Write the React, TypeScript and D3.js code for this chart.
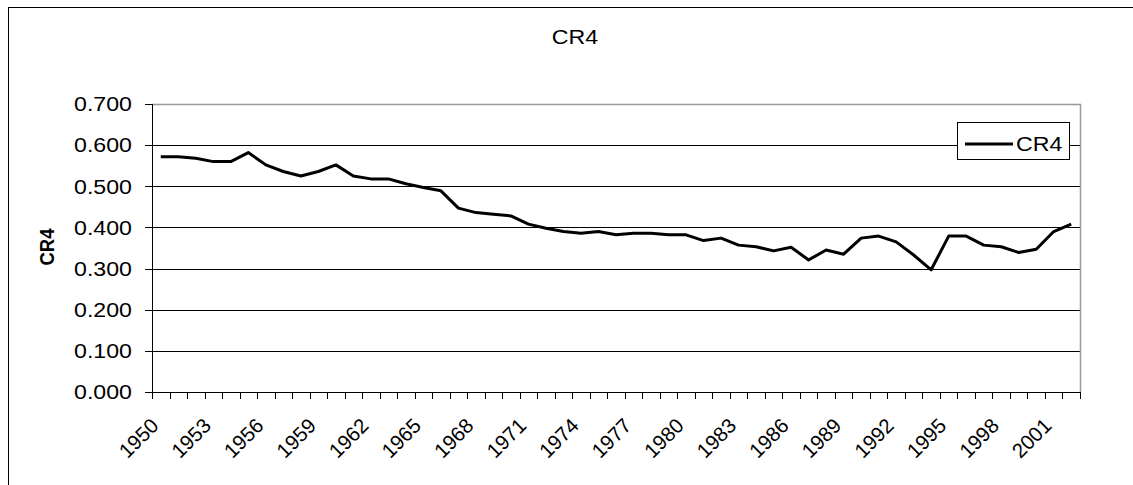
import React, { useRef, useEffect } from 'react';
import * as d3 from 'd3';

// years on the category axis
const years: number[] = d3.range(1950, 2003);

// CR4 concentration ratio, one value per year
const cr4: number[] = [
  0.572, 0.572, 0.568, 0.560, 0.560, 0.582, 0.552, 0.536, 0.525, 0.536,
  0.552, 0.525, 0.518, 0.518, 0.506, 0.497, 0.489, 0.447, 0.436, 0.432,
  0.428, 0.408, 0.398, 0.390, 0.386, 0.390, 0.382, 0.386, 0.386, 0.382,
  0.382, 0.368, 0.374, 0.357, 0.353, 0.343, 0.352, 0.321, 0.345, 0.335,
  0.374, 0.379, 0.365, 0.333, 0.297, 0.379, 0.379, 0.357, 0.353, 0.339,
  0.347, 0.390, 0.408,
];

const yTicks: number[] = [0, 0.1, 0.2, 0.3, 0.4, 0.5, 0.6, 0.7];
const xLabels: number[] = years.filter((d, i) => i % 3 === 0);

const seriesName = 'CR4';
const chartTitle = 'CR4';
const yTitle = 'CR4';

const W = 1133;
const H = 485;
const FONT = '"Liberation Sans", Arial, sans-serif';
const SX = 1.13; // the picture is stretched a little horizontally

const CR4Chart = () => {
  const svgRef = useRef<SVGSVGElement>(null);

  useEffect(() => {
    const svg = d3.select(svgRef.current);
    svg.selectAll('*').remove();

    const left = 152, right = 1080, top = 104, bottom = 392;

    const x = d3.scaleBand<number>().domain(years).range([left, right]);
    const y = d3.scaleLinear().domain([0, 0.7]).range([bottom, top]);

    // outer chart frame (runs off the page on the right and bottom)
    svg.append('rect')
      .attr('x', 8.5).attr('y', 7.5)
      .attr('width', W + 20).attr('height', H + 20)
      .attr('fill', '#fff').attr('stroke', '#000');

    // title
    svg.append('text')
      .attr('transform', `translate(575,43.5) scale(${SX},1)`)
      .attr('text-anchor', 'middle')
      .style('font-family', FONT).style('font-size', '20.5px')
      .text(chartTitle);

    // gridlines
    svg.append('g').selectAll('line')
      .data(yTicks.filter(d => d > 0 && d < 0.7))
      .enter().append('line')
      .attr('x1', left).attr('x2', right)
      .attr('y1', d => Math.round(y(d)) + 0.5).attr('y2', d => Math.round(y(d)) + 0.5)
      .attr('stroke', '#000');

    // plot border, top and right in grey
    svg.append('path')
      .attr('d', `M${left},${top + 0.5}H${right + 0.5}V${bottom}`)
      .attr('fill', 'none').attr('stroke', '#999').attr('stroke-width', 1.5);

    // y axis
    svg.append('line')
      .attr('x1', left + 0.5).attr('x2', left + 0.5)
      .attr('y1', top).attr('y2', bottom + 1)
      .attr('stroke', '#000');
    svg.append('g').selectAll('line')
      .data(yTicks).enter().append('line')
      .attr('x1', left - 7).attr('x2', left)
      .attr('y1', d => Math.round(y(d)) + 0.5).attr('y2', d => Math.round(y(d)) + 0.5)
      .attr('stroke', '#000');
    svg.append('g').selectAll('text')
      .data(yTicks).enter().append('text')
      .attr('transform', d => `translate(132,${y(d) + 7.3}) scale(${SX},1)`)
      .attr('text-anchor', 'end')
      .style('font-family', FONT).style('font-size', '20.5px')
      .text(d => d3.format('.3f')(d));

    // y axis title
    svg.append('text')
      .attr('transform', `translate(53.5,${(top + bottom) / 2 - 1}) scale(${SX},1) rotate(-90)`)
      .attr('text-anchor', 'middle')
      .style('font-family', FONT).style('font-size', '18.5px').style('font-weight', 'bold')
      .text(yTitle);

    // x axis
    svg.append('line')
      .attr('x1', left).attr('x2', right + 1)
      .attr('y1', bottom + 0.5).attr('y2', bottom + 0.5)
      .attr('stroke', '#000');
    const edges = years.map(d => x(d) as number).concat([right]);
    svg.append('g').selectAll('line')
      .data(edges).enter().append('line')
      .attr('x1', d => Math.round(d) + 0.5).attr('x2', d => Math.round(d) + 0.5)
      .attr('y1', bottom).attr('y2', bottom + 7)
      .attr('stroke', '#000');
    svg.append('g').selectAll('text')
      .data(xLabels).enter().append('text')
      .attr('transform', d => {
        const cx = (x(d) as number) + x.bandwidth() / 2;
        return `translate(${cx - 1},427) rotate(-45)`;
      })
      .attr('text-anchor', 'end')
      .style('font-family', FONT).style('font-size', '20.5px')
      .text(d => String(d));

    // the series
    const line = d3.line<number>()
      .x((d, i) => (x(years[i]) as number) + x.bandwidth() / 2)
      .y(d => y(d));
    svg.append('path')
      .datum(cr4)
      .attr('d', line)
      .attr('fill', 'none')
      .attr('stroke', '#000')
      .attr('stroke-width', 3)
      .attr('stroke-linejoin', 'round');

    // legend
    const lg = svg.append('g');
    lg.append('rect')
      .attr('x', 957.5).attr('y', 122.5)
      .attr('width', 112).attr('height', 37)
      .attr('fill', '#fff').attr('stroke', '#000');
    lg.append('line')
      .attr('x1', 965).attr('x2', 1013)
      .attr('y1', 144).attr('y2', 144)
      .attr('stroke', '#000').attr('stroke-width', 3);
    lg.append('text')
      .attr('transform', `translate(1016,151) scale(${SX},1)`)
      .style('font-family', FONT).style('font-size', '20.5px')
      .text(seriesName);
  }, []);

  return <svg ref={svgRef} width={W} height={H} style={{ position: 'absolute', left: 0, top: 0 }}></svg>;
};

export default function App() {
  return <CR4Chart />;
}
